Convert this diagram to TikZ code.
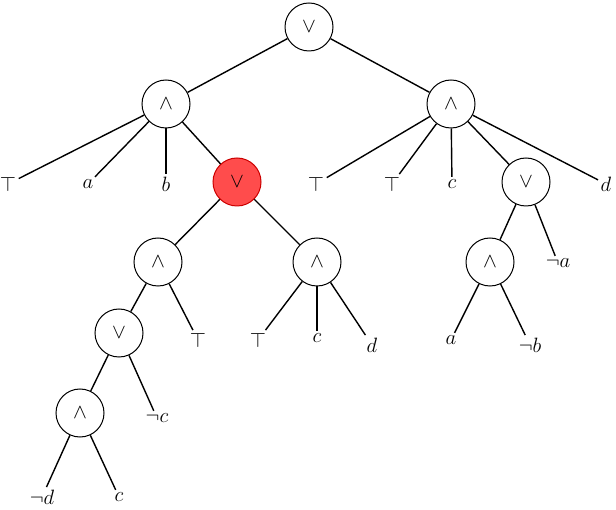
\documentclass[tikz,border=0pt]{standalone}
\begin{document}
\begin{tikzpicture}[x=1pt,y=-1pt,
  op/.style={circle,draw,line width=1pt,minimum size=48pt,inner sep=0pt,fill=white,font=\fontsize{20}{24}\selectfont},
  red/.style={op,fill=red!70,draw=red!80!black},
  lf/.style={inner sep=2pt,font=\fontsize{21}{25}\selectfont},
  every path/.style={line width=1.4pt}]
\useasboundingbox (0,0) rectangle (616,510);
\node[op] (r) at (309,27) {$\vee$};
\node[op] (l) at (166,104) {$\wedge$};
\node[op] (rr) at (451,104) {$\wedge$};
\node[lf] (l1) at (8,184) {$\top$};
\node[lf] (l2) at (88,184) {$a$};
\node[lf] (l3) at (166,184) {$b$};
\node[red] (rv) at (237,182) {$\vee$};
\node[lf] (r1) at (316,184) {$\top$};
\node[lf] (r2) at (392,184) {$\top$};
\node[lf] (r3) at (452,184) {$c$};
\node[op] (r4) at (526,182) {$\vee$};
\node[lf] (r5) at (606,184) {$d$};
\node[op] (a1) at (158,262) {$\wedge$};
\node[op] (a2) at (317,262) {$\wedge$};
\node[op] (v1) at (119,333) {$\vee$};
\node[lf] (t1) at (198,340) {$\top$};
\node[lf] (t2) at (258,340) {$\top$};
\node[lf] (c1) at (317,338) {$c$};
\node[lf] (d1) at (372,345) {$d$};
\node[op] (a3) at (490,262) {$\wedge$};
\node[lf] (na) at (558,263) {$\neg a$};
\node[lf] (a4) at (451,340) {$a$};
\node[lf] (nb) at (530,345) {$\neg b$};
\node[op] (a5) at (80,413) {$\wedge$};
\node[lf] (nc) at (157,418) {$\neg c$};
\node[lf] (nd) at (42,497) {$\neg d$};
\node[lf] (c2) at (119,497) {$c$};
\foreach \a/\b in {r/l,r/rr,l/l1,l/l2,l/l3,l/rv,rr/r1,rr/r2,rr/r3,rr/r4,rr/r5,rv/a1,rv/a2,a1/v1,a1/t1,a2/t2,a2/c1,a2/d1,r4/a3,r4/na,a3/a4,a3/nb,v1/a5,v1/nc,a5/nd,a5/c2}
  \draw (\a) -- (\b);
\end{tikzpicture}
\end{document}
